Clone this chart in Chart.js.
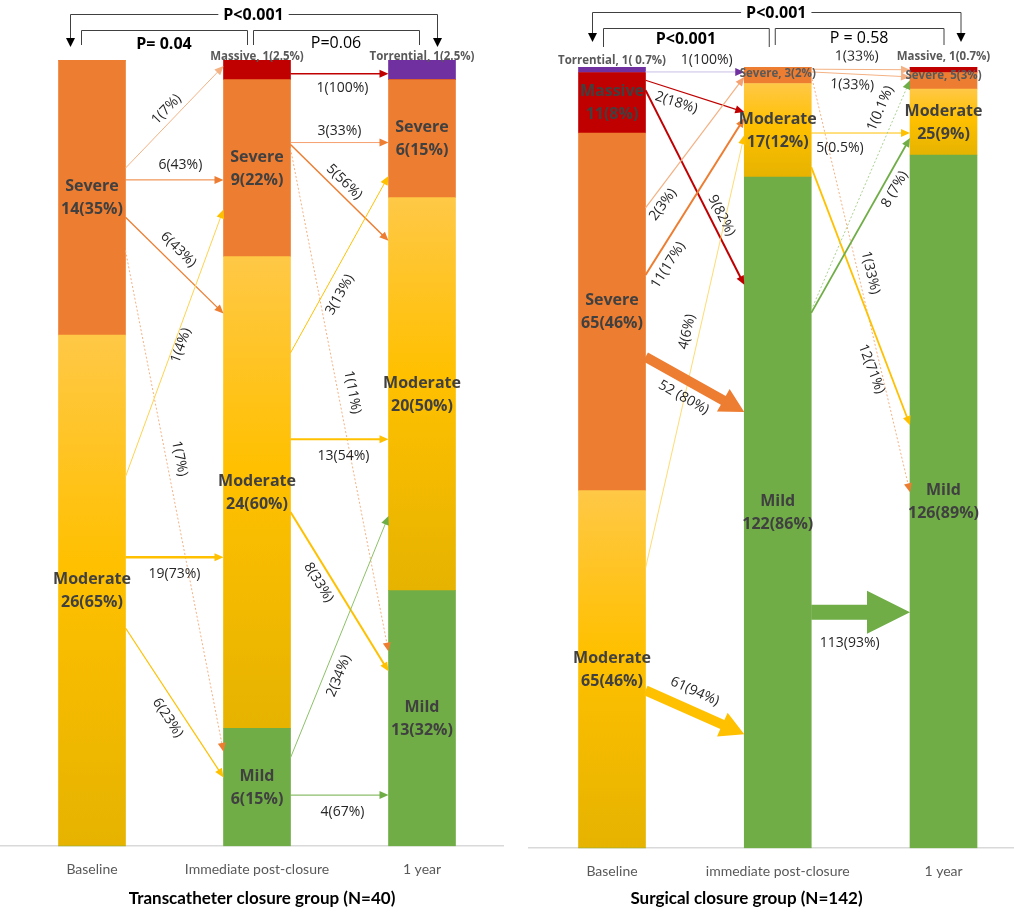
<!DOCTYPE html>
<html>
<head>
<meta charset="utf-8">
<script src="https://cdn.jsdelivr.net/npm/chart.js@4.4.1/dist/chart.umd.min.js"></script>
<style>
  body { margin: 0; background: #fff; width: 1014px; height: 914px; overflow: hidden; position: relative; }
  canvas { position: absolute; top: 0; }
  #left-chart { left: 0; }
  #right-chart { left: 479px; }
</style>
</head>
<body>
<canvas id="left-chart" width="524" height="914"></canvas>
<canvas id="right-chart" width="535" height="914"></canvas>
<script>
// ---- transcatheter group (N=40)
const leftStages = ['Baseline', 'Immediate post-closure', '1 year']
const leftMild = [0, 6, 13]
const leftModerate = [26, 24, 20]
const leftSevere = [14, 9, 6]
const leftMassive = [0, 1, 0]
const leftTorrential = [0, 0, 1]
const leftMildText = ['', '6(15%)', '13(32%)']
const leftModerateText = ['26(65%)', '24(60%)', '20(50%)']
const leftSevereText = ['14(35%)', '9(22%)', '6(15%)']
const leftMassiveText = ['', '', '']
const leftSmall = [[1, 40.15, 'Massive, 1(2.5%)'], [2, 40.15, 'Torrential, 1(2.5%)']]
// stage, value at start, value at end, label
const leftFlows = [
  [0, 34.5, 39.7, '1(7%)'],
  [0, 33.9, 33.9, '6(43%)'],
  [0, 32.0, 27.1, '6(43%)'],
  [0, 30.3, 4.8, '1(7%)'],
  [0, 18.8, 32.4, '1(4%)'],
  [0, 14.7, 14.7, '19(73%)'],
  [0, 11.1, 3.5, '6(23%)'],
  [1, 39.3, 39.3, '1(100%)'],
  [1, 35.8, 35.8, '3(33%)'],
  [1, 35.7, 30.8, '5(56%)'],
  [1, 35.5, 9.9, '1(11%)'],
  [1, 25.1, 34.1, '3(13%)'],
  [1, 20.7, 20.7, '13(54%)'],
  [1, 17.0, 8.9, '8(33%)'],
  [1, 4.5, 16.8, '2(34%)'],
  [1, 2.6, 2.6, '4(67%)']
]
const leftP = ['P<0.001', 'P= 0.04', 'P=0.06']

// ---- surgical group (N=142)
const rightStages = ['Baseline', 'immediate post-closure', '1 year']
const rightMild = [0, 122, 126]
const rightModerate = [65, 17, 12]
const rightSevere = [65, 3, 3]
const rightMassive = [11, 0, 1]
const rightTorrential = [1, 0, 0]
const rightMildText = ['', '122(86%)', '126(89%)']
const rightModerateText = ['65(46%)', '17(12%)', '25(9%)']
const rightSevereText = ['65(46%)', '', '']
const rightMassiveText = ['11(8%)', '', '']
const rightSmall = [[0, 143.1, 'Torrential, 1( 0.7%)'], [1, 140.7, 'Severe, 3(2%)'], [2, 143.8, 'Massive, 1(0.7%)'], [2, 140.5, 'Severe, 5(3%)']]
const rightFlows = [
  [0, 141.1, 141.1, '1(100%)'],
  [0, 139.6, 133.8, '2(18%)'],
  [0, 137.8, 102.4, '9(82%)'],
  [0, 116.4, 140.2, '2(3%)'],
  [0, 104.2, 132.7, '11(17%)'],
  [0, 50.9, 129.6, '4(6%)'],
  [0, 89.3, 79.3, '52 (80%)'],
  [0, 28.7, 20.7, '61(94%)'],
  [1, 141.6, 141.5, '1(33%)'],
  [1, 141.1, 140.2, '1(33%)'],
  [1, 140.5, 64.7, '1(33%)'],
  [1, 130, 130, '5(0.5%)'],
  [1, 123.8, 76.9, '12(71%)'],
  [1, 97.3, 129.1, '8 (7%)'],
  [1, 97.8, 139.6, '1(0.1%)'],
  [1, 42.9, 42.9, '113(93%)']
]
const rightP = ['P<0.001', 'P<0.001', 'P = 0.58']

// arrow looks (same order as the flows)
const leftFlowStyle = [
  {c: '#F4B183', w: 1, t: .5, off: -11},
  {c: '#ED7D31', w: 1, t: .56, off: -15},
  {c: '#ED7D31', w: 1.3, t: .44, off: -14},
  {c: '#F4B183', w: 1, dash: true, head: '#ED7D31', t: .42, off: -13},
  {c: '#FFD24D', w: 1, head: '#FFC000', t: .5, off: 7},
  {c: '#FFC000', w: 2.5, t: .5, off: 17},
  {c: '#FFC000', w: 1.2, t: .55, off: 14},
  {c: '#C00000', w: 1.5, t: .53, off: 14},
  {c: '#F4A070', w: 1, head: '#ED7D31', t: .5, off: -12},
  {c: '#ED7D31', w: 1.5, t: .47, off: -11},
  {c: '#F4B183', w: 1, dash: true, head: '#ED7D31', t: .49, off: -14},
  {c: '#FFC000', w: 1, t: .37, off: 15},
  {c: '#FFC000', w: 2, t: .54, off: 17},
  {c: '#FFC000', w: 2, t: .40, off: 13},
  {c: '#8CC168', w: 1, head: '#70AD47', t: .36, off: 14},
  {c: '#70AD47', w: 1, t: .53, off: 17}
]
const rightFlowStyle = [
  {c: '#C9BFE6', w: 1, head: '#7030A0', t: .62, off: -12},
  {c: '#C00000', w: 1.2, t: .35, off: 12},
  {c: '#C00000', w: 2, t: .67, off: -11},
  {c: '#F4B183', w: 1.2, head: '#F4A070', t: .08, off: 12},
  {c: '#ED7D31', w: 2, t: .11, off: 14},
  {c: '#FFD24D', w: 0.8, head: '#FFC000', t: .54, off: -12},
  {c: '#ED7D31', fat: [10, 26, 24], t: .47, off: 17},
  {c: '#FFC000', fat: [10, 26, 24], t: .42, off: -19},
  {c: '#F4B183', w: 1, t: .46, off: -13},
  {c: '#F4B183', w: 1, t: .42, off: 11},
  {c: '#F4B183', w: 1, dash: true, head: '#ED7D31', t: .48, off: -12},
  {c: '#FFC000', w: 1, t: .29, off: 15},
  {c: '#FFC000', w: 1.8, t: .76, off: 16},
  {c: '#70AD47', w: 1.8, t: .74, off: 12},
  {c: '#A9D18E', w: 1, dash: true, head: '#70AD47', t: .85, off: -16},
  {c: '#70AD47', fat: [15, 43, 43], t: .39, off: 31}
]

const BAR_W = 67
const TEXT_DARK = '#404040'

function drawArrow(ctx, x0, y0, x1, y1, st){
    const dx = x1 - x0, dy = y1 - y0, len = Math.hypot(dx, dy)
    const ux = dx / len, uy = dy / len, nx = -uy, ny = ux
    ctx.save()
    if(st.fat){
        const [s, h, L] = st.fat
        const bx = x1 - ux * L, by = y1 - uy * L
        ctx.beginPath()
        ctx.moveTo(x0 + nx * s / 2, y0 + ny * s / 2)
        ctx.lineTo(bx + nx * s / 2, by + ny * s / 2)
        ctx.lineTo(bx + nx * h / 2, by + ny * h / 2)
        ctx.lineTo(x1, y1)
        ctx.lineTo(bx - nx * h / 2, by - ny * h / 2)
        ctx.lineTo(bx - nx * s / 2, by - ny * s / 2)
        ctx.lineTo(x0 - nx * s / 2, y0 - ny * s / 2)
        ctx.closePath()
        ctx.fillStyle = st.c
        ctx.fill()
    }else{
        const hl = 9, hw = 4
        ctx.strokeStyle = st.c
        ctx.lineWidth = st.w
        if(st.dash) ctx.setLineDash([2, 2])
        ctx.beginPath()
        ctx.moveTo(x0, y0)
        ctx.lineTo(x1 - ux * hl * 0.7, y1 - uy * hl * 0.7)
        ctx.stroke()
        ctx.setLineDash([])
        ctx.fillStyle = st.head || st.c
        ctx.beginPath()
        ctx.moveTo(x1, y1)
        ctx.lineTo(x1 - ux * hl + nx * hw, y1 - uy * hl + ny * hw)
        ctx.lineTo(x1 - ux * hl - nx * hw, y1 - uy * hl - ny * hw)
        ctx.closePath()
        ctx.fill()
    }
    ctx.restore()
}

function drawFlowLabel(ctx, x0, y0, x1, y1, text, st){
    let a = Math.atan2(y1 - y0, x1 - x0)
    if(a > Math.PI / 2) a -= Math.PI
    if(a < -Math.PI / 2) a += Math.PI
    const cx = x0 + (x1 - x0) * st.t - Math.sin(a) * st.off
    const cy = y0 + (y1 - y0) * st.t + Math.cos(a) * st.off
    ctx.save()
    ctx.translate(cx, cy)
    ctx.rotate(a)
    ctx.font = '14px "Open Sans"'
    ctx.fillStyle = '#262626'
    ctx.textAlign = 'center'
    ctx.textBaseline = 'middle'
    ctx.fillText(text, 0, 0)
    ctx.restore()
}

// bracket: [xa, xb, y, endY, text, bold, textY, outer]
function drawBracket(ctx, b){
    const [xa, xb, y, endY, text, bold, textY, outer] = b
    ctx.save()
    ctx.strokeStyle = '#404040'
    ctx.fillStyle = '#000'
    ctx.lineWidth = 1
    ctx.beginPath()
    ctx.moveTo(xa + .5, outer ? endY - 8 : endY)
    ctx.lineTo(xa + .5, y + .5)
    ctx.lineTo(xb + .5, y + .5)
    ctx.lineTo(xb + .5, outer ? endY - 8 : endY)
    ctx.stroke()
    if(outer){
        for(const x of [xa + .5, xb + .5]){
            ctx.beginPath()
            ctx.moveTo(x - 4.5, endY - 9)
            ctx.lineTo(x + 4.5, endY - 9)
            ctx.lineTo(x, endY)
            ctx.closePath()
            ctx.fill()
        }
    }
    ctx.font = (bold ? 'bold ' : '') + '16px "Open Sans"'
    ctx.textAlign = 'center'
    ctx.textBaseline = 'middle'
    const mid = (xa + xb) / 2
    if(outer){
        const w = ctx.measureText(text).width + 10
        ctx.fillStyle = '#fff'
        ctx.fillRect(mid - w / 2, textY - 10, w, 20)
    }
    ctx.fillStyle = '#000'
    ctx.fillText(text, mid, textY)
    ctx.restore()
}

function flowPlugin(g){
    return {
        id: 'flows',
        afterDatasetsDraw(chart){
            const ctx = chart.ctx
            const xs = chart.scales.x, ys = chart.scales.y
            const ends = g.flows.map(f => [
                xs.getPixelForValue(f[0]) + BAR_W / 2, ys.getPixelForValue(f[1]),
                xs.getPixelForValue(f[0] + 1) - BAR_W / 2, ys.getPixelForValue(f[2])
            ])
            ends.forEach((e, i) => drawArrow(ctx, e[0], e[1], e[2], e[3], g.styles[i]))
            ends.forEach((e, i) => drawFlowLabel(ctx, e[0], e[1], e[2], e[3], g.flows[i][3], g.styles[i]))

            // names inside the bars
            const rows = [[g.mild, g.mildText, 'Mild'], [g.moderate, g.moderateText, 'Moderate'],
                          [g.severe, g.severeText, 'Severe'], [g.massive, g.massiveText, 'Massive']]
            ctx.save()
            ctx.font = 'bold 16px "Open Sans"'
            ctx.fillStyle = TEXT_DARK
            ctx.textAlign = 'center'
            ctx.textBaseline = 'middle'
            for(let i = 0; i < 3; i++){
                let base = 0
                const cx = xs.getPixelForValue(i)
                rows.forEach(r => {
                    const v = r[0][i]
                    if(r[1][i]){
                        const cy = (ys.getPixelForValue(base) + ys.getPixelForValue(base + v)) / 2
                        ctx.fillText(r[2], cx, cy - 11)
                        ctx.fillText(r[1][i], cx, cy + 12)
                    }
                    base += v
                })
            }
            ctx.font = 'bold 11.5px "Open Sans"'
            ctx.fillStyle = '#595959'
            g.small.forEach(s => ctx.fillText(s[2], xs.getPixelForValue(s[0]), ys.getPixelForValue(s[1])))
            ctx.restore()

            // p-value brackets
            const p0 = xs.getPixelForValue(0), p1 = xs.getPixelForValue(1), p2 = xs.getPixelForValue(2)
            g.brackets(p0, p1, p2).forEach(b => drawBracket(ctx, b))

            // group title under the axis
            ctx.save()
            ctx.font = 'bold 17px Lato'
            ctx.fillStyle = '#000'
            ctx.textAlign = 'center'
            ctx.textBaseline = 'middle'
            ctx.fillText(g.title, chart.width / 2, 899)
            ctx.restore()
        }
    }
}

function moderateFill(mild, moderate){
    return function(c){
        const chart = c.chart
        if(!chart.chartArea || c.dataIndex === undefined) return '#FFC000'
        const y = chart.scales.y
        const top = y.getPixelForValue(mild[c.dataIndex] + moderate[c.dataIndex])
        const bottom = y.getPixelForValue(mild[c.dataIndex])
        const grad = chart.ctx.createLinearGradient(0, top, 0, bottom)
        grad.addColorStop(0, '#FFC846')
        grad.addColorStop(0.45, '#FFC000')
        grad.addColorStop(1, '#E6B300')
        return grad
    }
}

function makeChart(canvasId, g){
    return new Chart(document.getElementById(canvasId), {
        type: 'bar',
        data: {
            labels: [0, 1, 2],
            datasets: [
                {label: 'Mild', data: g.mild, backgroundColor: '#70AD47'},
                {label: 'Moderate', data: g.moderate, backgroundColor: moderateFill(g.mild, g.moderate)},
                {label: 'Severe', data: g.severe, backgroundColor: '#ED7D31'},
                {label: 'Massive', data: g.massive, backgroundColor: '#C00000'},
                {label: 'Torrential', data: g.torrential, backgroundColor: '#7030A0'}
            ]
        },
        options: {
            responsive: false,
            animation: false,
            barThickness: BAR_W,
            layout: {padding: g.padding},
            plugins: {legend: {display: false}, tooltip: {enabled: false}},
            scales: {
                x: {
                    type: 'linear',
                    stacked: true,
                    offset: false,
                    min: g.xMin,
                    max: g.xMax,
                    afterBuildTicks: axis => { axis.ticks = [0, 1, 2].map(v => ({value: v})) },
                    grid: {display: false, drawTicks: false, offset: false},
                    border: {display: true, color: '#D9D9D9', width: 1.5},
                    ticks: {
                        autoSkip: false,
                        maxRotation: 0,
                        padding: 15,
                        color: '#595959',
                        font: {family: 'Lato', size: 14},
                        callback: v => g.stages[v]
                    }
                },
                y: {display: false, stacked: true, min: 0, max: g.total}
            }
        },
        plugins: [flowPlugin(g)]
    })
}

makeChart('left-chart', {
    stages: leftStages, total: 40,
    mild: leftMild, moderate: leftModerate, severe: leftSevere, massive: leftMassive, torrential: leftTorrential,
    mildText: leftMildText, moderateText: leftModerateText, severeText: leftSevereText, massiveText: leftMassiveText,
    small: leftSmall, flows: leftFlows, styles: leftFlowStyle,
    title: 'Transcatheter closure group (N=40)',
    xMin: -0.5576, xMax: 2.4909,
    padding: {left: 0, right: 21, top: 60, bottom: 21},
    brackets: (p0, p1, p2) => [
        [p0 - 22, p2 + 15, 14, 47, leftP[0], true, 15, true],
        [p0 - 11, p1 - 10, 30, 45, leftP[1], true, 44, false],
        [p1 - 4, p2 - 3, 30, 45, leftP[2], false, 43, false]
    ]
})

makeChart('right-chart', {
    stages: rightStages, total: 142,
    mild: rightMild, moderate: rightModerate, severe: rightSevere, massive: rightMassive, torrential: rightTorrential,
    mildText: rightMildText, moderateText: rightModerateText, severeText: rightSevereText, massiveText: rightMassiveText,
    small: rightSmall, flows: rightFlows, styles: rightFlowStyle,
    title: 'Surgical closure group (N=142)',
    xMin: -0.5008, xMax: 2.4253,
    padding: {left: 50, right: 0, top: 67, bottom: 19},
    brackets: (p0, p1, p2) => [
        [p0 - 20, p2 + 17, 12, 42, rightP[0], true, 13, true],
        [p0 - 9, p1 - 9, 28, 47, rightP[1], true, 39, false],
        [p1 - 3, p2, 28, 45, rightP[2], false, 38, false]
    ]
})
</script>
</body>
</html>
